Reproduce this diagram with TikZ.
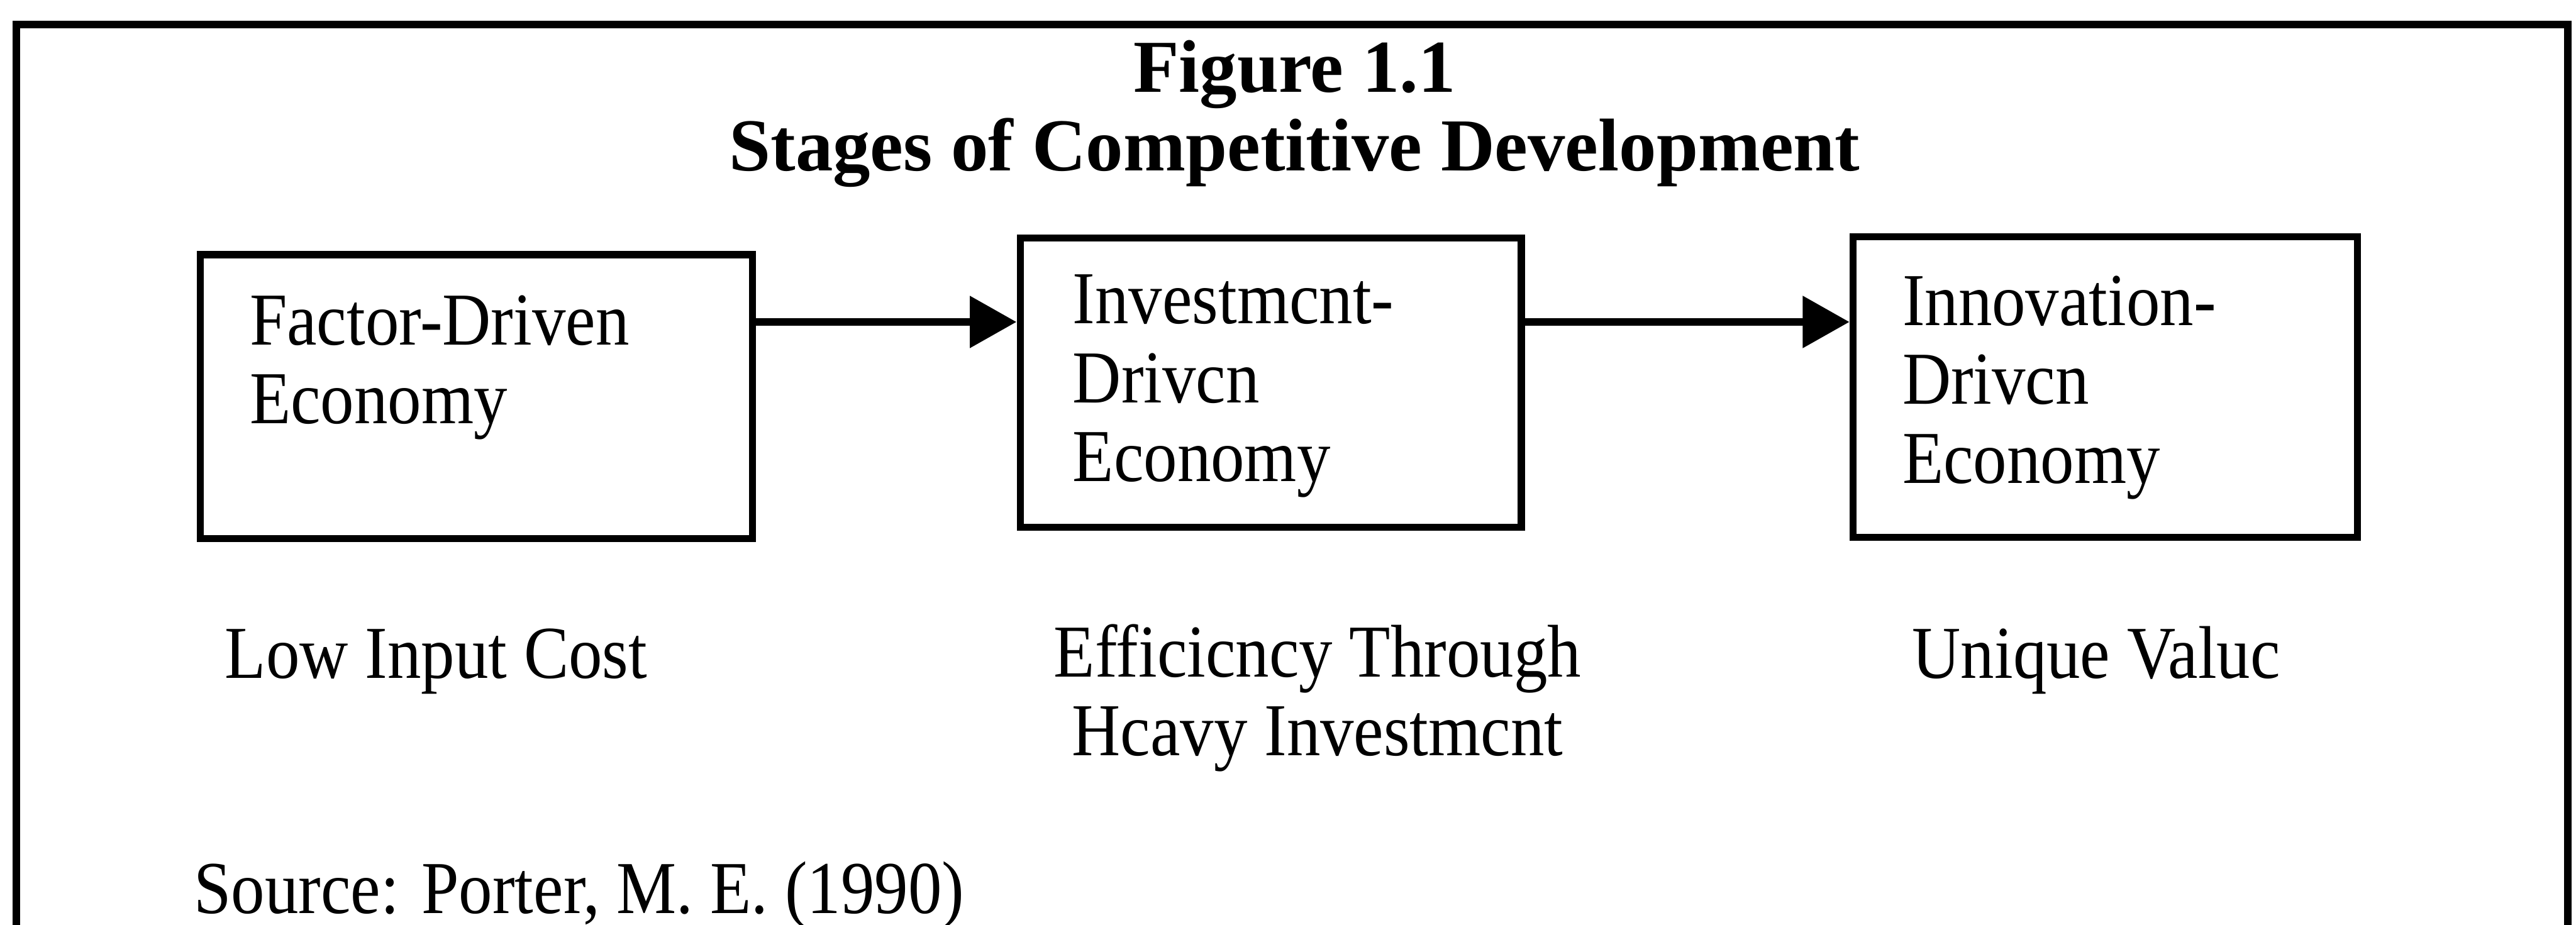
\documentclass[tikz,border=0pt]{standalone}
\usepackage{fontspec}
\setmainfont{Liberation Serif}
\newfontfamily\bodyfont[FakeStretch=0.9]{Liberation Serif}
\usetikzlibrary{arrows.meta,fit}
\begin{document}
\begin{tikzpicture}[x=0.03091cm,y=-0.03091cm,
  every node/.style={inner sep=0pt, outer sep=0pt},
  stagebox/.style={draw, line width=3.8pt, inner sep=0pt},
  txt/.style={font=\bodyfont\fontsize{40pt}{42.2pt}\selectfont, align=left},
  ctxt/.style={font=\bodyfont\fontsize{40pt}{42.2pt}\selectfont, align=center},
  heading/.style={font=\bfseries\fontsize{40pt}{42.2pt}\selectfont, align=center},
  flow/.style={line width=4pt, shorten >=2pt, -{Triangle[length=25pt,width=27pt]}},
  border/.style={line width=4pt}]
\useasboundingbox (0,0) rectangle (1568,563);

% outer border of the figure
\draw[border] (10,15) rectangle (1563,567);

% heading (multi-line nodes sit on the baseline of their last line)
\node[heading, anchor=base] (title) at (788,104)
  {Figure 1.1\\Stages of Competitive Development};

% the three stages
\node[stagebox, fit={(122,155) (458,328)}] (b1) {};
\node[stagebox, fit={(621,145) (926,321)}] (b2) {};
\node[stagebox, fit={(1128,144) (1435,327)}] (b3) {};

\node[txt, anchor=base west] (t1) at (152,258) {Factor-Driven\\Economy};
\node[txt, anchor=base west] (t2) at (653,293) {Investmcnt-\\Drivcn\\Economy};
\node[txt, anchor=base west] (t3) at (1158,294) {Innovation-\\Drivcn\\Economy};

% progression between stages
\coordinate (lvl) at (0,196);
\draw[flow] (b1.east |- lvl) -- (b2.west |- lvl);
\draw[flow] (b2.east |- lvl) -- (b3.west |- lvl);

% source of advantage at each stage
\node[txt, anchor=base west] (s1) at (137,413) {Low Input Cost};
\node[ctxt, anchor=base] (s2) at (802,460) {Efficicncy Through\\Hcavy Investmcnt};
\node[txt, anchor=base west] (s3) at (1164,413) {Unique Valuc};

% reference
\node[txt, anchor=base west] (src) at (118,556) {Source: Porter, M. E. (1990)};
\end{tikzpicture}
\end{document}
